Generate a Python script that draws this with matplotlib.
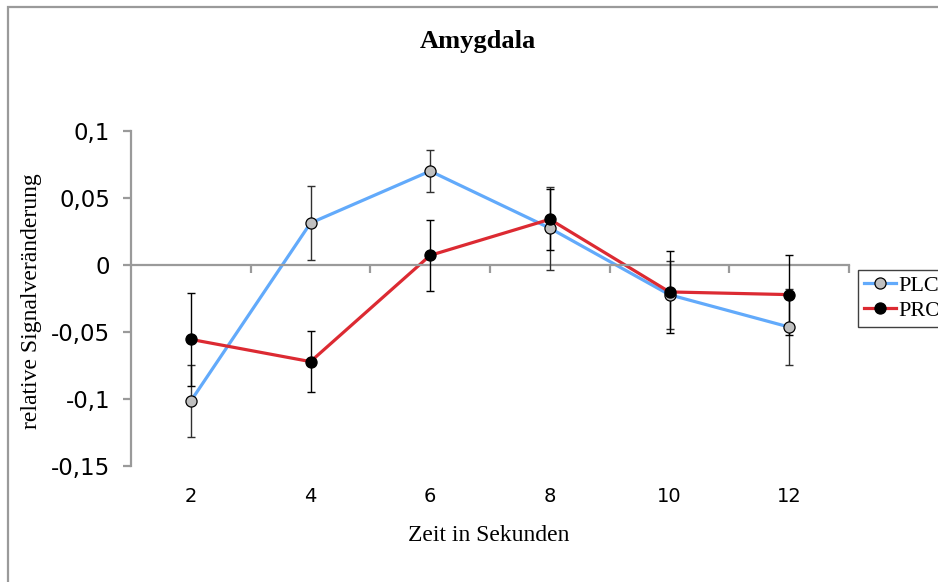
import numpy as np
import matplotlib
matplotlib.use("Agg")
import matplotlib.pyplot as plt
from matplotlib.lines import Line2D
from matplotlib.patches import Rectangle

# ---- data ----
times = ['2', '4', '6', '8', '10', '12']
plc = [-0.1015, 0.0313, 0.0701, 0.0275, -0.0222, -0.0463]
plc_err = [0.0269, 0.0275, 0.0155, 0.0310, 0.0255, 0.0284]
pro = [-0.0555, -0.0721, 0.0072, 0.0341, -0.0201, -0.0221]
pro_err = [0.0346, 0.0226, 0.0265, 0.0226, 0.0308, 0.0299]
yticks = [-0.15, -0.1, -0.05, 0, 0.05, 0.1]
ytick_labels = ['-0,15', '-0,1', '-0,05', '0', '0,05', '0,1']
series_names = ['PLC', 'PRO']

# ---- style ----
W, H = 938, 582
GRAY = '#9a9a9a'
BLUE = '#62AAFB'
RED = '#DC2A32'
SERIF = ['Liberation Serif', 'DejaVu Serif']
SANS = ['DejaVu Sans']

fig = plt.figure(figsize=(W / 100, H / 100), dpi=100)
ax = fig.add_axes([131 / W, 1 - 466 / H, (849 - 131) / W, (466 - 131) / H])

x = np.arange(len(times))
ax.set_xlim(-0.5, len(times) - 0.5)
ax.set_ylim(-0.15, 0.1)

# lines
ax.plot(x, plc, color=BLUE, lw=2.3, zorder=2, solid_capstyle='round')
ax.plot(x, pro, color=RED, lw=2.3, zorder=2.1, solid_capstyle='round')
# error bars
ax.errorbar(x, plc, yerr=plc_err, fmt='none', ecolor='#303030', elinewidth=1.0,
            capsize=2.6, capthick=1.0, zorder=3)
ax.errorbar(x, pro, yerr=pro_err, fmt='none', ecolor='black', elinewidth=1.0,
            capsize=2.6, capthick=1.0, zorder=3)
# markers
ax.plot(x, plc, ls='none', marker='o', ms=8, mfc='#c0c0c0', mec='black', mew=0.9, zorder=4)
ax.plot(x, pro, ls='none', marker='o', ms=8, mfc='black', mec='black', mew=0.9, zorder=4.1)

# axes styling
for s in ['top', 'right']:
    ax.spines[s].set_visible(False)
ax.spines['left'].set_color(GRAY)
ax.spines['left'].set_linewidth(1.6)
ax.spines['bottom'].set_position(('data', 0))
ax.spines['bottom'].set_color(GRAY)
ax.spines['bottom'].set_linewidth(1.6)

ax.set_yticks(yticks, ytick_labels)
ax.tick_params(axis='y', length=6, width=1.6, color=GRAY, pad=9, labelsize=16.5)
for lab in ax.get_yticklabels():
    lab.set_fontfamily(SANS)

ax.set_xticks(x)
ax.tick_params(axis='x', which='major', length=0, labelbottom=False)
ax.set_xticks(np.arange(0.5, len(times), 1.0), minor=True)
ax.tick_params(axis='x', which='minor', length=6, width=1.6, color=GRAY, direction='out')

sec = ax.secondary_xaxis('bottom')
sec.set_xticks(x, times)
sec.spines['bottom'].set_visible(False)
sec.tick_params(length=0, pad=15, labelsize=14)
for lab in sec.get_xticklabels():
    lab.set_fontfamily(SANS)

# texts
fig.text(478 / W, 1 - 48 / H, 'Amygdala', ha='center', va='baseline',
         fontsize=19, fontweight='bold', family=SERIF)
fig.text(489 / W, 1 - 541 / H, 'Zeit in Sekunden', ha='center', va='baseline',
         fontsize=17, family=SERIF)
fig.text(31 / W, 1 - 301 / H, 'relative Signalveränderung', ha='center', va='center',
         rotation=90, fontsize=17, family=SERIF)

# legend
handles = [
    Line2D([], [], color=BLUE, lw=2.3, marker='o', ms=8, mfc='#c0c0c0', mec='black', mew=0.9),
    Line2D([], [], color=RED, lw=2.3, marker='o', ms=8, mfc='black', mec='black', mew=0.9),
]
leg = fig.legend(handles, series_names, loc='upper left',
                 bbox_to_anchor=(858 / W, 1 - 270 / H), bbox_transform=fig.transFigure,
                 frameon=True, fancybox=False, edgecolor='#404040', framealpha=1,
                 prop={'family': SERIF, 'size': 16}, handlelength=1.45,
                 handletextpad=0.12, borderpad=0.25, labelspacing=0.2, borderaxespad=0)
leg.get_frame().set_linewidth(1.0)

# chart-area border (partially outside the image)
fig.add_artist(Rectangle((7.5 / W, -0.1), 1.2, 1.1 - 6.5 / H, transform=fig.transFigure,
                         fill=False, edgecolor=GRAY, lw=1.6, clip_on=False))

fig.savefig('out.png', dpi=100)
